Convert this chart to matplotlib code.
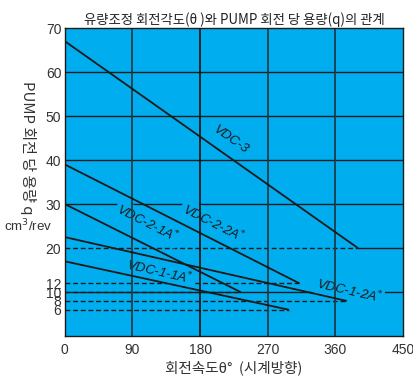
import matplotlib
matplotlib.use('Agg')
import matplotlib.pyplot as plt

KR = ['Noto Sans CJK KR', 'DejaVu Sans']
BG = '#00aeef'
INK = '#1a1a1a'

# pump displacement q (cm3/rev) vs adjusting angle, one straight line per model
models = ['VDC-3', 'VDC-2-2A', 'VDC-2-1A', 'VDC-1-2A', 'VDC-1-1A']
q_at_zero = [67, 39, 30, 22.5, 17]
theta_end = [390, 312, 234, 375, 298]
q_end = [20, 12, 10, 8, 6]
starred = [False, True, True, True, True]

x_ticks = [0, 90, 180, 270, 360, 450]
y_ticks = [6, 8, 10, 12, 20, 30, 40, 50, 60, 70]

# where each model name is written along its line
label_xy = [(221, 44.5), (197, 25.8), (110, 25.6), (378, 10.4), (126, 14.6)]
label_rot = [-35, -27, -27, -13, -13]

fig = plt.figure(figsize=(4.13, 3.76), dpi=100)
ax = fig.add_axes([0.157, 0.106, 0.819, 0.8195])
ax.set_facecolor(BG)
ax.set_xlim(0, 450)
ax.set_ylim(0, 70)

# solid horizontal grid
for q in [10, 30, 40, 50, 60]:
    ax.axhline(q, color=INK, lw=1.0, zorder=1)
# dashed guides from the axis out to where each line stops
for te, qe in zip(theta_end, q_end):
    ax.plot([0, te], [qe, qe], color=INK, lw=1.0, ls=(0, (3.5, 2)), zorder=1)
    if qe == 20:
        ax.plot([te, 450], [qe, qe], color=INK, lw=1.0, zorder=1)

# vertical grid
for t in x_ticks[1:-1]:
    ax.axvline(t, color='#1d3c4a' if t != 180 else INK, lw=1.3, zorder=3)

for name, q0, te, qe, st, (lx, ly), rot in zip(models, q_at_zero, theta_end, q_end,
                                               starred, label_xy, label_rot):
    ax.plot([0, te], [q0, qe], color=INK, lw=1.3, zorder=4, solid_capstyle='butt')
    txt = name + (r'$^{*}$' if st else '')
    ax.text(lx, ly, txt, rotation=rot, rotation_mode='anchor', ha='center', va='center',
            fontsize=9.5, style='italic', color=INK, family='Liberation Sans', zorder=2,
            bbox=dict(facecolor=BG, edgecolor='none', pad=1.5))

for s in ax.spines.values():
    s.set_color(INK)
    s.set_linewidth(1.0)
    s.set_zorder(5)

ax.set_xticks(x_ticks)
ax.set_yticks(y_ticks)
ax.tick_params(length=0, labelsize=10, labelcolor='#333333')
ax.tick_params(axis='y', pad=2.5)
ax.tick_params(axis='x', pad=5)
for lab in ax.get_xticklabels() + ax.get_yticklabels():
    lab.set_family('Liberation Sans')

ax.set_title('유량조정 회전각도(θ )와 PUMP 회전 당 용량(q)의 관계', family=KR,
             fontsize=9.6, color='#222222', pad=3)
ax.set_xlabel('회전속도θ°  (시계방향)', family=KR, fontsize=10.5, color='#333333', labelpad=2)
fig.text(0.068, 0.607, 'PUMP 회전 당 용량 q', rotation=270, family=KR, fontsize=10.8,
         color='#333333', ha='center', va='center')
fig.text(0.068, 0.399, 'cm$^3$/rev', family='Liberation Sans', fontsize=9.6,
         color='#333333', ha='center', va='center')

fig.savefig('out.png', dpi=100)
